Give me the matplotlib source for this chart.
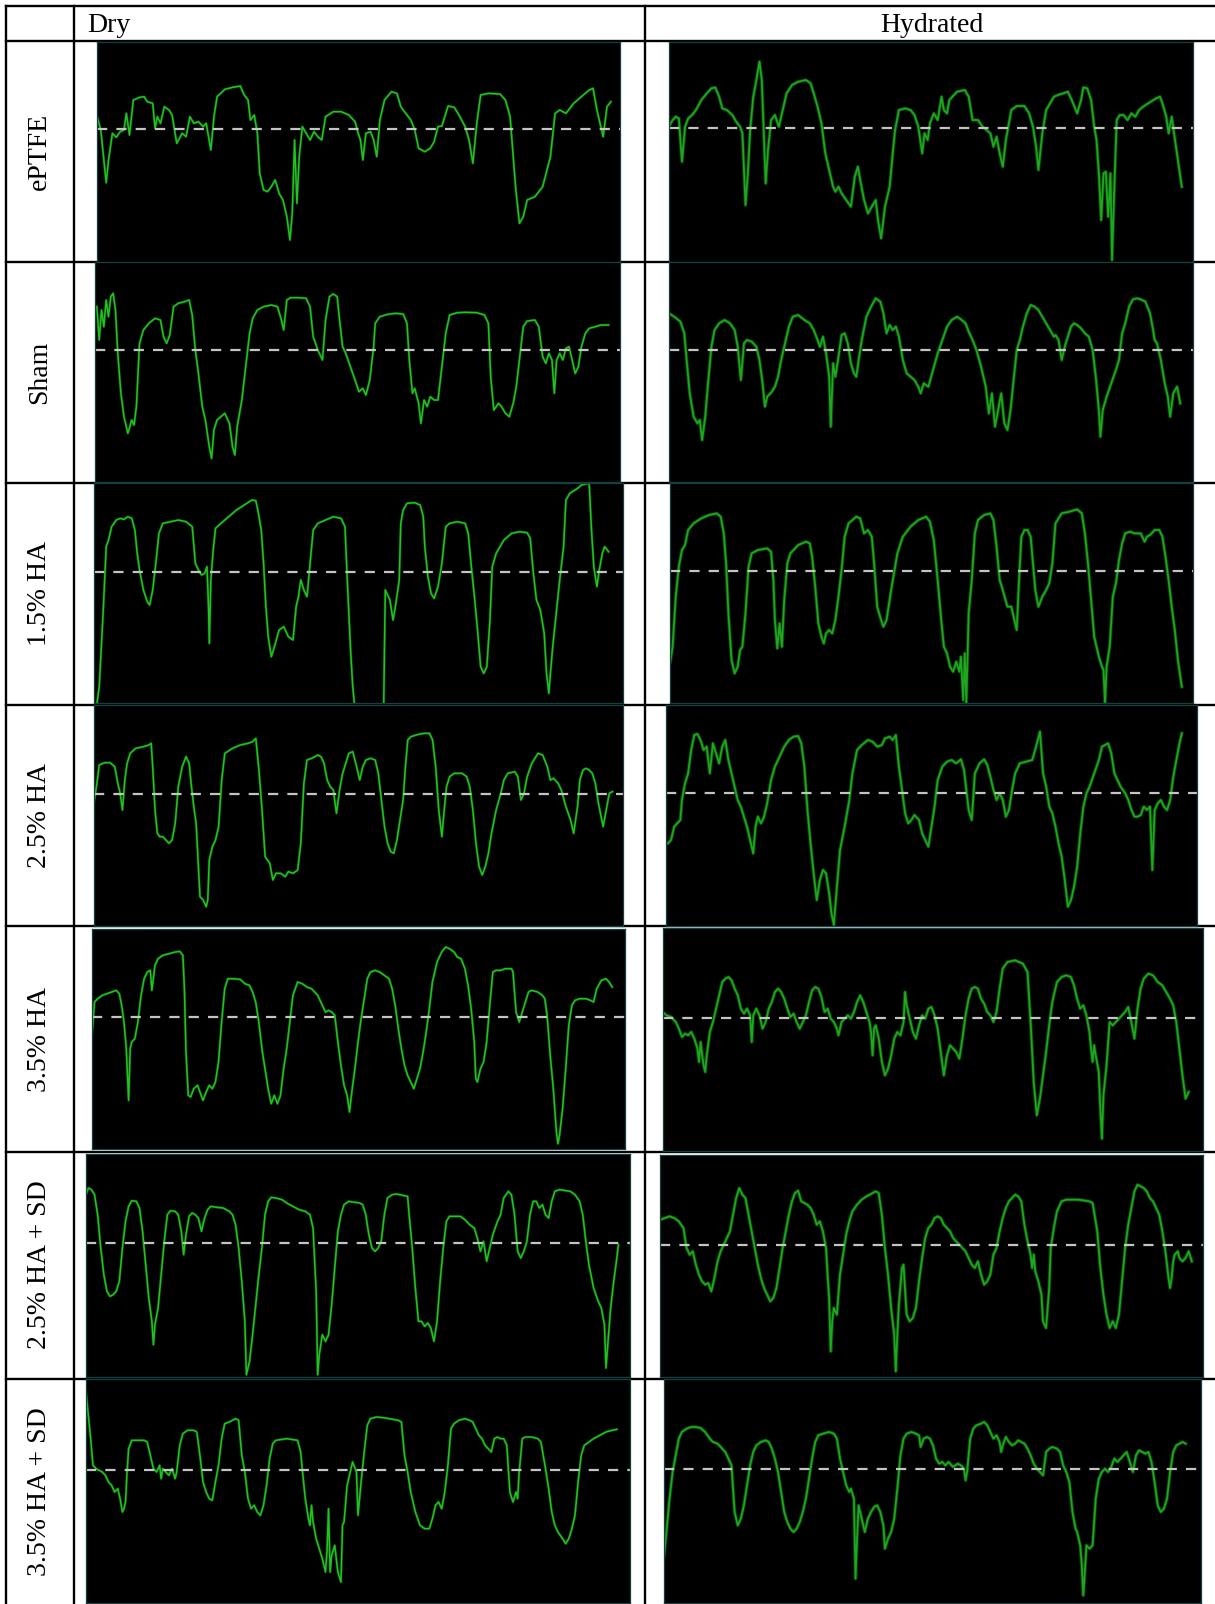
import matplotlib
matplotlib.use("Agg")
import matplotlib.pyplot as plt
from matplotlib.lines import Line2D

# ---------------- data (trace readings, arbitrary amplitude units) ----------------
rows = ["ePTFE", "Sham", "1.5% HA", "2.5% HA", "3.5% HA", "2.5% HA + SD", "3.5% HA + SD"]
columns = ["Dry", "Hydrated"]

eptfe_dry = [(0,442),(5,400),(12,242),(15,310),(20,390),(25,378),(30,395),(35,400),(38,450),(42,385),(47,490),(55,498),(61,500),(65,485),(72,480),(75,405),(78,440),(82,420),(87,470),(93,460),(97,445),(103,360),(110,390),(115,380),(120,440),(125,420),(131,425),(137,410),(141,420),(147,340),(151,440),(155,500),(165,522),(175,528),(185,532),(190,505),(195,490),(198,430),(203,445),(207,390),(210,270),(215,220),(220,215),(225,230),(230,250),(235,210),(240,190),(245,140),(249,70),(252,150),(255,370),(258,180),(261,320),(265,410),(270,390),(275,370),(280,395),(285,380),(290,370),(295,440),(305,455),(315,455),(325,445),(333,425),(337,390),(340,370),(343,310),(347,390),(353,395),(357,370),(361,320),(365,430),(371,490),(380,515),(387,510),(392,470),(395,460),(400,445),(405,430),(410,400),(415,345),(423,335),(430,345),(435,365),(440,410),(445,412),(453,472),(461,468),(467,445),(475,410),(480,370),(485,300),(490,420),(495,505),(505,510),(520,508),(527,490),(533,440),(540,230),(545,120),(550,140),(555,190),(565,200),(575,230),(585,320),(591,450),(597,460),(605,450),(615,480),(625,500),(635,520),(640,525),(645,460),(650,410),(653,380),(658,470),(663,485)]

eptfe_hyd = [(0,405),(5,425),(9,435),(13,430),(17,300),(21,405),(25,430),(30,440),(35,455),(42,485),(49,505),(55,520),(60,523),(65,495),(69,460),(75,455),(82,440),(87,420),(92,405),(95,385),(99,170),(102,265),(105,395),(109,495),(113,545),(117,600),(120,545),(123,355),(125,235),(128,335),(132,425),(137,440),(142,405),(147,455),(152,505),(159,530),(167,540),(177,545),(183,535),(187,505),(192,465),(197,415),(202,325),(207,275),(212,225),(215,210),(219,225),(223,205),(229,185),(235,165),(240,255),(244,285),(247,245),(252,185),(257,145),(262,165),(267,185),(270,125),(274,70),(279,165),(285,225),(289,325),(292,395),(297,455),(305,460),(312,455),(317,440),(322,405),(327,325),(330,385),(334,365),(337,415),(342,445),(347,425),(352,495),(355,455),(359,445),(362,485),(372,510),(382,515),(387,495),(392,425),(399,425),(405,405),(410,395),(415,385),(419,345),(423,375),(427,325),(431,285),(435,365),(442,455),(449,467),(459,467),(465,445),(470,405),(474,345),(477,275),(482,385),(487,455),(492,475),(497,495),(502,500),(509,505),(515,510),(520,485),(527,445),(532,485),(535,523),(540,520),(545,485),(549,405),(552,365),(555,265),(558,125),(561,265),(564,270),(567,135),(570,265),(572,5),(575,225),(578,425),(582,440),(587,440),(592,425),(597,445),(602,435),(607,455),(612,465),(622,480),(629,490),(634,495),(637,475),(642,435),(645,385),(649,435),(652,385),(657,305),(662,225)]

sham_dry = [(2,525),(5,425),(8,515),(11,465),(14,545),(17,495),(20,555),(23,565),(26,515),(29,385),(33,265),(37,195),(42,145),(47,185),(50,170),(53,225),(57,415),(62,455),(69,475),(77,490),(84,485),(88,435),(92,415),(96,440),(101,525),(107,535),(115,540),(121,545),(125,500),(129,395),(133,325),(138,225),(142,185),(147,105),(150,70),(153,155),(157,185),(162,195),(167,205),(173,175),(177,105),(180,80),(183,165),(189,245),(195,365),(199,445),(203,490),(209,515),(217,525),(227,530),(235,525),(240,485),(243,455),(247,545),(252,552),(262,552),(272,550),(277,525),(281,435),(287,395),(293,365),(297,485),(302,555),(307,563),(312,555),(315,485),(319,405),(323,385),(329,345),(335,305),(340,270),(345,280),(349,260),(354,305),(359,405),(361,475),(367,495),(377,502),(387,505),(397,503),(402,475),(405,365),(409,265),(412,280),(417,235),(420,175),(424,245),(428,225),(432,255),(437,245),(442,245),(447,345),(452,445),(457,500),(467,507),(477,508),(492,507),(502,500),(507,475),(510,315),(514,215),(520,235),(524,225),(529,205),(534,195),(539,235),(543,285),(547,365),(552,465),(557,482),(567,485),(572,465),(577,375),(581,355),(585,385),(589,365),(592,265),(595,365),(599,385),(603,365),(607,400),(611,405),(615,365),(619,325),(623,345),(627,405),(632,445),(637,460),(645,465),(652,470),(662,470)]

sham_hyd = [(0,505),(7,495),(15,480),(20,445),(23,365),(27,265),(32,195),(37,175),(40,185),(43,125),(47,195),(51,305),(55,405),(59,455),(65,475),(72,485),(79,475),(85,455),(89,405),(93,305),(97,415),(101,425),(107,420),(113,405),(117,365),(121,295),(124,225),(127,255),(133,270),(137,285),(141,315),(145,365),(149,405),(155,465),(160,495),(167,500),(175,485),(182,475),(187,455),(192,425),(195,405),(199,435),(203,385),(207,315),(209,165),(212,355),(215,315),(219,375),(223,440),(227,445),(231,415),(235,355),(239,325),(242,315),(245,365),(249,425),(255,495),(261,525),(267,550),(273,540),(277,505),(281,445),(285,470),(289,455),(293,465),(297,435),(302,365),(307,325),(312,315),(317,305),(322,285),(325,265),(329,295),(335,285),(341,335),(347,385),(353,425),(359,465),(365,485),(372,495),(377,487),(383,475),(387,450),(392,425),(397,395),(403,345),(409,285),(413,205),(417,265),(421,165),(425,215),(429,265),(433,175),(437,155),(441,215),(445,305),(449,395),(453,425),(457,465),(462,505),(467,530),(472,525),(477,515),(482,495),(487,475),(492,455),(497,435),(499,440),(503,425),(507,365),(511,405),(515,435),(519,465),(523,475),(527,470),(532,460),(537,445),(542,435),(547,395),(551,315),(555,215),(557,135),(560,215),(565,255),(571,295),(577,335),(581,365),(585,445),(589,475),(594,525),(599,547),(604,550),(609,547),(615,540),(621,505),(625,455),(627,425),(630,415),(635,365),(640,295),(644,255),(647,195),(651,265),(656,285),(660,235)]

ha15_dry = [(3,-20),(7,48),(12,268),(16,468),(19,488),(23,528),(29,548),(34,553),(39,550),(44,558),(49,553),(53,518),(56,448),(59,398),(64,338),(69,303),(72,293),(76,338),(80,418),(84,508),(89,538),(99,543),(109,548),(119,543),(127,528),(131,418),(135,398),(139,383),(143,388),(146,408),(148,288),(149,178),(151,368),(154,458),(157,523),(164,538),(174,558),(184,578),(194,593),(204,608),(209,606),(212,573),(216,518),(219,418),(222,288),(225,198),(229,138),(233,168),(239,218),(245,228),(251,198),(257,188),(261,288),(264,318),(267,368),(271,338),(275,318),(279,418),(283,518),(289,538),(299,548),(309,558),(319,553),(324,528),(327,368),(331,168),(334,48),(336,0),(345,-60),(372,-60),(374,0),(376,338),(382,308),(386,248),(389,288),(394,368),(396,538),(399,578),(404,598),(414,600),(421,593),(425,558),(427,468),(431,378),(435,328),(439,313),(444,348),(449,418),(454,528),(459,538),(469,543),(479,538),(483,508),(487,408),(491,318),(495,218),(499,108),(503,88),(507,108),(511,248),(514,408),(519,448),(524,468),(529,488),(539,508),(549,513),(559,510),(563,493),(567,388),(571,308),(576,278),(581,208),(584,88),(587,28),(589,88),(592,168),(597,278),(601,368),(606,468),(609,608),(614,628),(624,643),(629,653),(634,656),(639,658),(642,518),(645,408),(649,348),(652,398),(656,448),(659,468),(664,453)]

ha15_hyd = [(0,123),(3,168),(7,318),(11,408),(15,458),(19,473),(23,518),(30,538),(40,553),(50,563),(60,568),(65,558),(69,508),(72,418),(75,268),(79,128),(83,88),(87,108),(90,158),(93,168),(97,268),(101,408),(105,448),(113,458),(125,463),(130,453),(133,368),(135,248),(138,163),(141,238),(144,168),(147,308),(151,418),(155,448),(165,473),(175,483),(180,478),(183,438),(187,348),(191,238),(195,198),(198,178),(201,208),(205,218),(209,208),(213,248),(217,318),(221,398),(225,498),(230,538),(240,558),(245,553),(250,508),(255,518),(260,498),(263,418),(267,288),(272,248),(275,228),(279,248),(285,338),(293,448),(300,498),(310,528),(320,548),(330,558),(335,543),(340,488),(345,368),(350,238),(353,168),(357,148),(361,108),(365,93),(369,123),(373,93),(375,138),(378,8),(380,148),(382,0),(385,268),(389,368),(393,508),(397,548),(405,563),(413,568),(417,548),(421,468),(425,368),(429,338),(435,288),(440,288),(444,248),(447,218),(450,368),(453,498),(457,518),(461,518),(465,498),(468,418),(471,338),(475,288),(480,318),(485,338),(489,358),(493,418),(497,538),(505,568),(515,573),(525,580),(531,568),(535,508),(539,418),(543,308),(547,198),(553,138),(557,108),(559,98),(561,0),(563,108),(567,168),(571,318),(575,358),(579,428),(583,478),(587,508),(593,513),(599,508),(607,508),(612,483),(615,498),(619,503),(625,518),(631,518),(635,498),(639,438),(643,368),(647,288),(651,218),(655,128),(660,48)]

ha25_dry = [(0,368),(4,428),(7,483),(14,490),(21,490),(27,478),(31,428),(34,398),(37,348),(40,438),(43,488),(47,518),(54,533),(64,538),(71,543),(74,548),(76,478),(79,348),(82,278),(85,268),(89,268),(93,258),(97,248),(101,258),(105,308),(109,418),(114,478),(119,508),(123,488),(126,418),(129,358),(132,308),(134,218),(137,88),(141,78),(145,58),(147,78),(149,198),(153,238),(157,258),(161,298),(165,438),(169,518),(179,533),(189,543),(199,548),(205,553),(209,563),(213,468),(217,348),(221,208),(227,188),(231,138),(235,158),(241,158),(247,148),(251,163),(257,158),(263,168),(267,248),(271,428),(275,498),(281,503),(289,513),(293,508),(297,488),(301,438),(305,418),(309,408),(313,338),(317,408),(321,458),(325,488),(329,518),(334,523),(339,478),(343,438),(347,478),(351,498),(357,503),(363,498),(367,458),(371,378),(375,298),(379,248),(383,223),(387,218),(391,258),(395,318),(399,378),(402,478),(405,558),(409,568),(419,575),(427,578),(433,578),(437,558),(441,478),(445,348),(449,268),(452,348),(455,418),(459,448),(465,458),(475,458),(481,448),(485,418),(489,348),(493,248),(497,178),(501,153),(505,178),(509,218),(513,278),(519,348),(525,398),(529,438),(534,458),(543,463),(547,448),(551,378),(555,398),(559,448),(565,488),(573,518),(579,513),(585,478),(589,438),(593,443),(597,433),(599,428),(603,408),(609,358),(615,318),(619,278),(624,358),(627,438),(631,468),(635,473),(639,468),(643,458),(647,428),(651,368),(657,298),(661,348),(665,398),(669,403)]

ha25_hyd = [(2,248),(6,258),(10,298),(14,308),(18,318),(20,378),(24,428),(28,458),(32,528),(36,573),(40,576),(44,558),(48,528),(52,538),(56,458),(60,548),(64,518),(68,488),(72,538),(76,558),(80,498),(84,458),(88,418),(92,378),(96,358),(100,328),(104,298),(108,258),(112,218),(115,298),(118,328),(122,308),(126,328),(130,368),(135,438),(140,478),(146,508),(152,538),(158,558),(164,568),(170,570),(174,548),(178,478),(182,348),(186,248),(190,158),(194,78),(198,138),(202,168),(206,158),(210,98),(213,38),(216,3),(220,118),(224,228),(230,298),(236,378),(240,458),(246,528),(252,543),(260,558),(266,553),(272,538),(278,543),(282,563),(288,568),(292,558),(296,573),(300,478),(304,408),(308,338),(312,308),(316,318),(320,333),(326,318),(330,278),(334,258),(338,238),(342,298),(346,358),(350,438),(356,478),(362,493),(368,498),(374,488),(380,500),(384,468),(390,348),(394,318),(398,458),(404,488),(410,500),(414,483),(418,448),(422,408),(426,378),(430,398),(434,378),(438,328),(442,348),(446,408),(450,458),(456,488),(464,493),(472,498),(477,538),(482,583),(486,458),(490,418),(494,358),(498,338),(502,298),(506,248),(510,208),(514,138),(518,58),(522,78),(526,118),(530,178),(534,278),(538,358),(542,398),(546,418),(552,458),(558,498),(562,538),(566,543),(570,548),(574,518),(578,458),(582,438),(586,418),(592,398),(596,378),(600,348),(604,328),(608,328),(612,333),(616,358),(620,348),(624,358),(627,168),(630,348),(634,368),(638,378),(642,358),(646,348),(650,378),(654,448),(658,498),(662,548),(665,578)]

ha35_dry = [(0,350),(3,440),(7,450),(13,460),(19,465),(25,470),(31,475),(35,465),(38,430),(41,380),(44,300),(47,145),(49,300),(51,320),(55,330),(59,380),(63,460),(67,510),(71,530),(75,535),(77,475),(81,550),(85,570),(91,580),(99,585),(107,590),(113,592),(117,580),(119,480),(121,290),(124,160),(127,155),(131,180),(136,190),(139,170),(143,145),(147,170),(151,190),(155,180),(159,200),(163,260),(167,380),(171,480),(175,510),(181,510),(191,508),(197,495),(203,490),(207,470),(211,440),(215,380),(219,300),(223,240),(227,180),(231,135),(235,160),(239,135),(243,160),(247,240),(251,300),(255,380),(259,460),(265,500),(271,495),(277,485),(283,480),(291,460),(297,430),(301,410),(305,415),(309,410),(313,400),(317,320),(321,250),(325,190),(329,160),(332,110),(335,170),(339,240),(343,320),(347,390),(351,450),(355,510),(359,530),(365,535),(371,530),(377,520),(383,510),(387,480),(391,430),(395,360),(399,300),(403,250),(407,220),(411,200),(415,180),(419,210),(423,240),(427,290),(431,350),(435,420),(439,500),(445,560),(451,590),(456,605),(461,600),(467,590),(471,575),(476,570),(481,540),(485,490),(489,420),(493,320),(495,210),(497,200),(501,240),(505,260),(509,320),(513,430),(517,530),(521,535),(527,535),(533,540),(541,540),(543,530),(547,410),(551,380),(555,410),(559,440),(563,470),(567,475),(575,470),(581,460),(584,450),(587,400),(591,280),(595,180),(599,50),(601,15),(603,40),(607,120),(611,240),(615,370),(619,430),(623,445),(629,450),(637,450),(643,445),(647,440),(651,480),(657,505),(663,510),(667,500),(671,485)]

ha35_hyd = [(0,418),(5,408),(11,403),(17,388),(21,368),(25,343),(29,353),(33,348),(37,358),(41,338),(45,308),(47,268),(49,328),(51,288),(53,258),(55,238),(57,288),(61,358),(65,388),(69,428),(73,468),(77,508),(81,518),(85,523),(89,513),(93,488),(97,468),(101,428),(105,413),(109,428),(113,408),(115,328),(117,408),(121,428),(125,408),(129,368),(133,388),(137,428),(141,448),(145,478),(149,488),(153,478),(157,458),(161,428),(165,403),(169,413),(173,388),(177,368),(181,388),(185,408),(189,448),(193,483),(197,493),(201,488),(205,463),(209,418),(213,428),(217,398),(221,388),(225,368),(227,348),(231,388),(235,398),(239,408),(243,398),(247,418),(251,448),(255,468),(259,448),(263,418),(267,388),(269,358),(271,288),(273,368),(275,378),(279,338),(283,268),(287,228),(291,248),(295,288),(299,338),(303,358),(307,348),(311,388),(313,478),(315,438),(319,398),(323,358),(327,338),(331,378),(335,408),(339,398),(343,428),(347,433),(351,408),(355,368),(359,298),(363,228),(367,288),(371,318),(375,308),(379,298),(383,278),(387,338),(391,408),(395,458),(399,488),(403,493),(407,488),(411,458),(415,443),(419,418),(423,408),(427,388),(431,418),(435,488),(439,548),(445,568),(455,573),(465,563),(471,538),(475,388),(479,208),(483,108),(487,158),(491,228),(495,298),(499,378),(503,448),(509,508),(515,523),(521,528),(527,523),(531,498),(535,458),(539,428),(543,438),(547,408),(551,358),(553,308),(555,268),(557,318),(559,288),(563,238),(565,128),(567,38),(569,168),(573,258),(577,388),(581,378),(585,388),(589,398),(593,408),(597,418),(601,433),(605,388),(609,338),(613,428),(617,488),(621,518),(627,533),(633,528),(639,508),(645,498),(650,478),(655,458),(659,438),(663,388),(667,308),(671,228),(675,158),(679,178)]

ha25sd_dry = [(0,546),(3,566),(7,561),(11,546),(15,486),(19,386),(23,306),(27,256),(31,241),(35,246),(39,256),(43,286),(47,386),(51,466),(55,511),(59,528),(65,526),(69,506),(73,436),(77,336),(81,236),(85,166),(87,96),(89,156),(93,206),(97,306),(101,406),(105,486),(109,498),(115,496),(119,486),(123,436),(126,366),(129,426),(133,481),(137,491),(141,486),(145,476),(149,436),(153,476),(157,501),(161,511),(169,508),(177,506),(185,496),(189,486),(193,456),(197,386),(201,286),(205,166),(207,6),(211,46),(215,126),(219,216),(223,306),(227,386),(231,486),(235,526),(239,538),(245,536),(253,531),(259,521),(267,511),(275,501),(283,496),(289,486),(293,446),(297,256),(299,6),(301,66),(305,126),(309,106),(313,126),(317,216),(321,326),(325,436),(329,486),(333,516),(339,526),(345,524),(353,521),(357,516),(361,486),(365,426),(369,386),(373,376),(377,386),(381,406),(385,486),(389,536),(395,546),(401,548),(409,544),(415,541),(417,486),(421,386),(425,266),(429,166),(433,166),(437,151),(441,161),(445,146),(449,106),(453,166),(457,286),(461,386),(465,466),(469,481),(475,481),(483,481),(489,471),(495,456),(501,446),(505,416),(509,376),(513,406),(517,346),(521,386),(525,426),(531,466),(535,486),(539,536),(545,556),(549,546),(553,486),(557,376),(561,356),(565,376),(569,406),(573,486),(577,526),(581,526),(585,506),(589,516),(593,486),(597,476),(601,526),(605,556),(611,561),(619,558),(625,556),(631,546),(637,526),(641,486),(645,406),(649,336),(655,266),(661,226),(665,206),(669,156),(671,26),(673,86),(677,206),(681,286),(685,356),(687,396)]

ha25sd_hyd = [(0,473),(6,478),(12,483),(18,478),(24,468),(30,448),(34,388),(38,368),(42,378),(46,338),(50,308),(54,288),(58,278),(62,283),(66,258),(70,298),(74,348),(78,378),(82,398),(86,418),(90,438),(94,488),(98,538),(102,568),(106,548),(110,538),(114,488),(118,438),(122,388),(126,338),(130,298),(134,268),(138,248),(142,228),(146,238),(150,268),(154,328),(158,388),(162,438),(166,488),(170,528),(174,553),(178,560),(182,528),(186,523),(190,518),(194,508),(198,488),(202,458),(206,468),(210,438),(214,388),(216,308),(218,238),(220,78),(222,168),(224,208),(228,188),(232,308),(236,368),(240,428),(244,468),(248,498),(254,518),(260,533),(266,543),(272,550),(278,558),(282,553),(286,488),(290,388),(294,308),(298,208),(302,128),(304,18),(306,128),(308,218),(312,328),(314,338),(318,188),(322,168),(326,178),(330,208),(334,288),(338,358),(342,418),(346,448),(350,458),(354,478),(358,483),(362,478),(366,458),(370,448),(374,438),(378,418),(382,408),(386,398),(390,388),(394,378),(398,358),(402,338),(406,328),(410,348),(414,308),(418,278),(422,288),(426,308),(430,368),(434,388),(438,438),(442,478),(446,508),(450,528),(454,538),(458,548),(462,543),(466,528),(470,458),(474,408),(478,368),(480,328),(482,368),(484,318),(488,288),(492,248),(494,168),(498,148),(502,268),(504,388),(508,448),(512,498),(518,528),(524,533),(532,533),(540,533),(548,530),(554,528),(558,523),(562,468),(564,438),(568,328),(572,248),(576,188),(580,148),(584,168),(588,148),(592,188),(596,288),(600,388),(604,458),(608,508),(612,558),(616,578),(620,573),(624,568),(628,558),(632,538),(636,528),(640,508),(644,488),(648,438),(652,378),(656,298),(658,268),(660,298),(662,348),(664,368),(668,378),(670,358),(674,348),(678,358),(682,378),(686,348)]

ha35sd_dry = [(0,632),(3,562),(6,492),(9,412),(13,402),(17,397),(21,392),(25,382),(29,362),(33,352),(37,332),(41,342),(44,312),(47,272),(49,282),(51,302),(53,392),(55,462),(59,487),(67,487),(75,487),(79,482),(83,442),(87,402),(91,392),(95,412),(97,372),(99,402),(103,392),(107,382),(111,402),(115,372),(117,392),(121,472),(125,507),(131,517),(139,517),(143,512),(147,442),(151,362),(155,332),(159,312),(163,307),(167,362),(171,412),(175,492),(179,537),(185,542),(189,547),(193,552),(197,547),(201,442),(205,392),(209,312),(213,282),(217,292),(221,272),(225,262),(229,292),(233,352),(237,432),(241,477),(245,487),(251,489),(259,492),(273,487),(277,452),(279,402),(283,312),(287,252),(289,232),(291,292),(293,242),(297,192),(301,162),(305,132),(309,92),(311,152),(313,282),(315,92),(317,142),(321,172),(325,92),(329,62),(331,232),(333,242),(337,352),(341,392),(344,422),(349,392),(351,262),(355,362),(359,452),(363,532),(367,552),(375,557),(383,555),(391,552),(403,547),(407,542),(411,442),(415,392),(419,332),(425,272),(431,232),(437,222),(443,222),(447,252),(451,292),(455,302),(459,282),(463,332),(467,412),(471,522),(475,537),(481,547),(489,552),(495,547),(499,542),(503,522),(507,502),(511,492),(515,472),(519,462),(523,452),(527,492),(531,497),(535,492),(539,492),(543,472),(547,332),(551,302),(555,332),(557,312),(559,392),(563,492),(567,497),(575,497),(583,492),(587,482),(593,402),(597,342),(601,272),(605,232),(609,212),(615,192),(619,177),(623,192),(627,222),(631,262),(635,362),(639,442),(643,472),(649,482),(655,492),(663,502),(671,512),(679,517),(685,520)]

ha35sd_hyd = [(0,142),(3,212),(7,312),(11,392),(15,442),(19,492),(23,512),(29,522),(35,527),(41,527),(47,524),(53,512),(59,492),(63,482),(69,477),(75,462),(79,452),(83,432),(87,412),(89,342),(91,272),(95,232),(99,252),(103,292),(107,352),(111,412),(115,452),(119,472),(125,482),(131,487),(135,482),(139,462),(143,432),(147,392),(151,332),(155,272),(159,242),(163,222),(167,212),(171,222),(175,242),(179,272),(183,312),(187,372),(191,432),(195,482),(199,502),(205,507),(213,512),(219,507),(223,492),(227,432),(231,392),(235,352),(239,332),(241,342),(245,312),(247,72),(249,192),(251,292),(255,252),(259,212),(263,252),(267,272),(271,287),(275,292),(279,272),(283,232),(285,162),(289,192),(293,212),(297,252),(301,342),(305,442),(309,492),(313,507),(319,512),(325,507),(329,502),(331,467),(335,492),(339,497),(343,492),(347,472),(351,432),(355,417),(359,422),(363,412),(367,422),(373,407),(379,417),(383,412),(387,402),(389,367),(391,392),(395,492),(399,522),(403,532),(409,537),(413,542),(417,532),(421,512),(425,492),(429,502),(433,482),(435,452),(437,472),(441,497),(445,482),(449,472),(453,477),(457,487),(461,482),(465,477),(469,462),(473,442),(477,417),(481,402),(485,392),(489,382),(493,452),(497,462),(501,467),(507,462),(511,452),(515,412),(519,392),(523,362),(527,272),(531,222),(533,212),(537,172),(539,112),(541,22),(543,92),(545,172),(549,162),(553,172),(557,312),(561,372),(565,392),(569,402),(573,392),(577,407),(581,432),(585,422),(589,432),(593,442),(597,452),(601,422),(605,392),(609,442),(613,457),(617,452),(621,447),(625,452),(629,422),(633,362),(637,292),(641,272),(645,282),(649,312),(653,392),(657,452),(661,472),(665,477),(669,482),(673,477)]

traces = [[eptfe_dry, eptfe_hyd], [sham_dry, sham_hyd], [ha15_dry, ha15_hyd],
          [ha25_dry, ha25_hyd], [ha35_dry, ha35_hyd], [ha25sd_dry, ha25sd_hyd],
          [ha35sd_dry, ha35sd_hyd]]

# reference (dashed) level of each panel, same units
thresholds = [[402, 400], [395, 394], [391, 395], [397, 399], [396, 401], [401, 398], [399, 401]]
# amplitude range shown in each panel (x span, y span)
spans = [[(675, 665), (677, 660)], [(677, 659), (677, 659)], [(682, 660), (675, 660)],
         [(682, 663), (685, 663)], [(687, 660), (697, 670)], [(702, 668), (701, 668)],
         [(702, 670), (693, 670)]]

# ---------------- layout (pixel boxes: left, top, right, bottom) ----------------
W, H = 1215, 1604
boxes = [
    [(96.9, 41.7, 620.2, 263.3), (668.8, 41.7, 1193.4, 261.7)],
    [(95.3, 262.0, 620.2, 481.7), (668.8, 262.0, 1193.4, 481.7)],
    [(93.8, 482.7, 622.5, 702.7), (670.3, 482.7, 1193.4, 702.7)],
    [(93.8, 705.0, 622.5, 926.0), (666.4, 705.0, 1197.3, 926.0)],
    [(92.2, 928.7, 624.6, 1148.7), (662.6, 928.0, 1202.6, 1151.3)],
    [(86.0, 1154.0, 630.0, 1376.7), (660.2, 1154.7, 1203.4, 1377.3)],
    [(86.0, 1379.3, 630.0, 1602.7), (664.1, 1379.3, 1201.1, 1602.7)],
]
row_lines = [6, 41, 262, 482.5, 704.5, 926.5, 1151.5, 1378.5]
col_lines = [6, 73.5, 645]

fig = plt.figure(figsize=(W / 100, H / 100), dpi=100)
fig.patch.set_facecolor("white")

serif = ["Liberation Serif", "DejaVu Serif"]

def fx(x):
    return x / W

def fy(y):
    return 1 - y / H

# table grid
for y in row_lines:
    fig.add_artist(Line2D([fx(6), 1.0], [fy(y), fy(y)], color="black", lw=1.7, zorder=-1))
for x in col_lines:
    fig.add_artist(Line2D([fx(x), fx(x)], [fy(6), 0.0], color="black", lw=1.7, zorder=-1))

# headers
fig.text(fx(87), fy(32), columns[0], fontsize=20, family=serif, ha="left", va="baseline")
fig.text(fx(932), fy(32), columns[1], fontsize=20, family=serif, ha="center", va="baseline")

# row labels
for i, lab in enumerate(rows):
    yc = (row_lines[i + 1] + (row_lines[i + 2] if i + 2 < len(row_lines) else H)) / 2
    fig.text(fx(39.5), fy(yc), lab, fontsize=20, family=serif, rotation=90,
             ha="center", va="center")

# panels
for i in range(len(rows)):
    for j in range(2):
        l, t, r, b = boxes[i][j]
        ax = fig.add_axes([fx(l), fy(b), (r - l) / W, (b - t) / H])
        ax.set_facecolor("black")
        xs, ys = zip(*traces[i][j])
        sx, sy = spans[i][j]
        if j == 1:
            ax.plot(xs, ys, color="#0f7a0f", lw=2.6, alpha=0.55, solid_joinstyle="round")
            ax.plot(xs, ys, color="#1fa81f", lw=1.3, solid_joinstyle="round")
        else:
            ax.plot(xs, ys, color="#0f8a0f", lw=2.0, alpha=0.45, solid_joinstyle="round")
            ax.plot(xs, ys, color="#22c422", lw=1.1, solid_joinstyle="round")
        ax.axhline(thresholds[i][j], color="#c4c4c4", lw=1.6, linestyle=(0, (4.6, 4.1)))
        ax.set_xlim(0, sx)
        ax.set_ylim(0, sy)
        ax.set_xticks([])
        ax.set_yticks([])
        for s in ax.spines.values():
            s.set_color("#15403f")
            s.set_linewidth(0.9)

fig.savefig("out.png", dpi=100, facecolor="white")
